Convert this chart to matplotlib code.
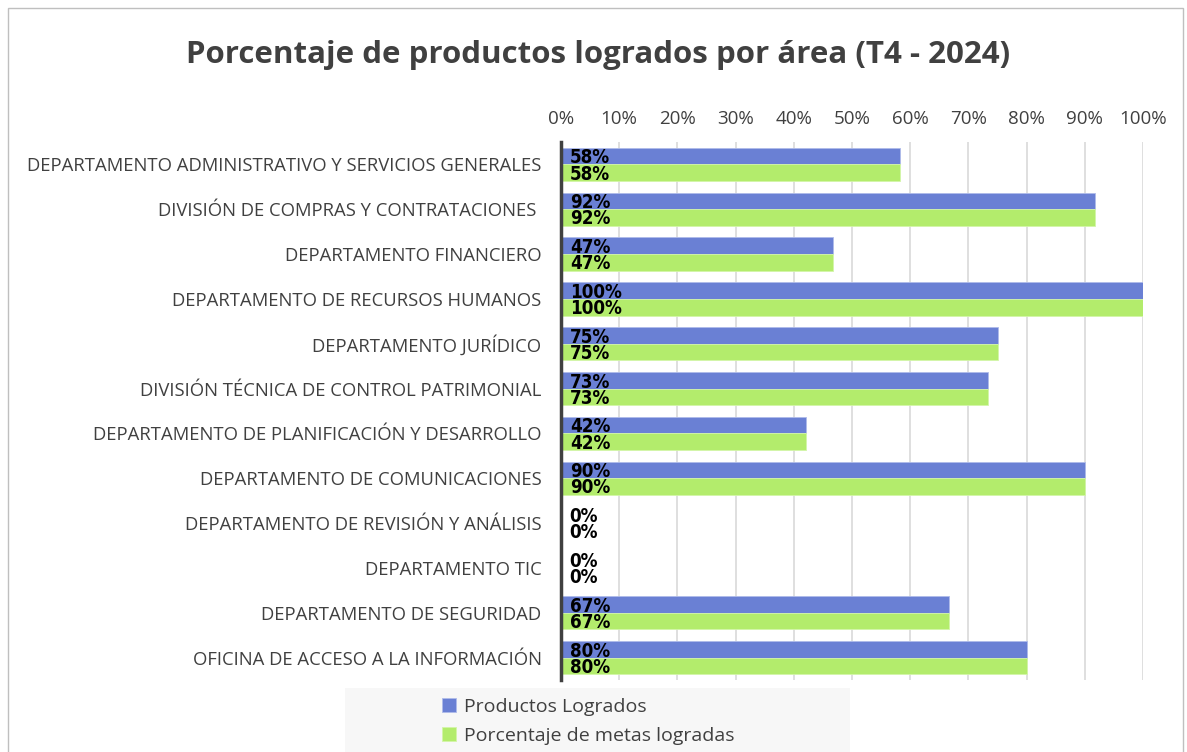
import matplotlib.pyplot as plt
import numpy as np
from matplotlib.patches import Rectangle

# Chart data
AREAS = [
    "DEPARTAMENTO ADMINISTRATIVO Y SERVICIOS GENERALES",
    "DIVISIÓN DE COMPRAS Y CONTRATACIONES ",
    "DEPARTAMENTO FINANCIERO",
    "DEPARTAMENTO DE RECURSOS HUMANOS",
    "DEPARTAMENTO JURÍDICO",
    "DIVISIÓN TÉCNICA DE CONTROL PATRIMONIAL",
    "DEPARTAMENTO DE PLANIFICACIÓN Y DESARROLLO",
    "DEPARTAMENTO DE COMUNICACIONES",
    "DEPARTAMENTO DE REVISIÓN Y ANÁLISIS",
    "DEPARTAMENTO TIC",
    "DEPARTAMENTO DE SEGURIDAD",
    "OFICINA DE ACCESO A LA INFORMACIÓN",
]
productos = [58.33, 91.67, 46.67, 100, 75, 73.33, 42.1, 90, 0, 0, 66.67, 80]
metas = [58.33, 91.67, 46.67, 100, 75, 73.33, 42.1, 90, 0, 0, 66.67, 80]
SERIES = ["Productos Logrados", "Porcentaje de metas logradas"]
TICKS = [0, 10, 20, 30, 40, 50, 60, 70, 80, 90, 100]

BLUE = "#6A80D4"
GREEN = "#B3EC6C"
FONT = ["Open Sans", "DejaVu Sans"]
LABEL_FONT = ["Liberation Sans Narrow", "DejaVu Sans"]

plt.rcParams['font.family'] = FONT

fig = plt.figure(figsize=(11.87, 7.52), dpi=100)
ax = fig.add_axes([561 / 1187, 1 - 680 / 752, 582 / 1187, (680 - 142) / 752])

y = np.arange(len(AREAS))
h = 0.37
ax.barh(y - h / 2, productos, height=h, color=BLUE, edgecolor="#AFBBEA", linewidth=0.6,
        label=SERIES[0], zorder=2)
ax.barh(y + h / 2, metas, height=h, color=GREEN, edgecolor="#D3F5A8", linewidth=0.6,
        label=SERIES[1], zorder=2)

# data labels (they touch each other, as in the original)
for i in range(len(AREAS)):
    ax.text(1.5, y[i] - h / 2 + 0.04, f"{productos[i]:.0f}%", ha="left", va="center",
            fontsize=13.5, fontweight="bold", fontstretch="condensed", color="black",
            zorder=3, family=LABEL_FONT)
    ax.text(1.5, y[i] + h / 2 + 0.03, f"{metas[i]:.0f}%", ha="left", va="center",
            fontsize=13.5, fontweight="bold", fontstretch="condensed", color="black",
            zorder=3, family=LABEL_FONT)

ax.set_xlim(0, 100)
ax.set_ylim(len(AREAS) - 0.5, -0.5)
ax.set_xticks(TICKS)
ax.set_xticklabels([f"{t}%" for t in TICKS], fontsize=13.5, color="#404040")
ax.xaxis.tick_top()
ax.tick_params(axis="x", length=0, pad=10)
ax.set_yticks(y)
ax.set_yticklabels(AREAS, fontsize=13.3, color="#404040")
ax.tick_params(axis="y", length=0, pad=14)
ax.grid(axis="x", color="#D9D9D9", linewidth=1.2, zorder=0)
for s in ["top", "right", "bottom"]:
    ax.spines[s].set_visible(False)
ax.spines["left"].set_color("#404040")
ax.spines["left"].set_linewidth(2.5)
ax.spines["left"].set_zorder(4)

fig.text(598 / 1187, 1 - 55 / 752, "Porcentaje de productos logrados por área (T4 - 2024)",
         ha="center", va="center", fontsize=22.5, fontweight="bold", color="#404040")

# outer frame
fig.patches.append(Rectangle((8 / 1187, -0.01), 1175 / 1187, 1 - 8 / 752 + 0.01,
                             transform=fig.transFigure, fill=False, edgecolor="#BFBFBF",
                             linewidth=1))
# legend background
fig.patches.append(Rectangle((345 / 1187, 0), 505 / 1187, 64 / 752, transform=fig.transFigure,
                             facecolor="#F7F7F7", edgecolor="none", zorder=0))

handles, labels = ax.get_legend_handles_labels()
leg = fig.legend(handles, labels, loc="upper left", bbox_to_anchor=(442 / 1187, 1 - 698 / 752),
                 frameon=False, fontsize=14, handlelength=0.7, handleheight=0.7,
                 handletextpad=0.45, labelspacing=0.55, borderaxespad=0, borderpad=0)
for t in leg.get_texts():
    t.set_color("#404040")

fig.savefig("out.png", dpi=100)
